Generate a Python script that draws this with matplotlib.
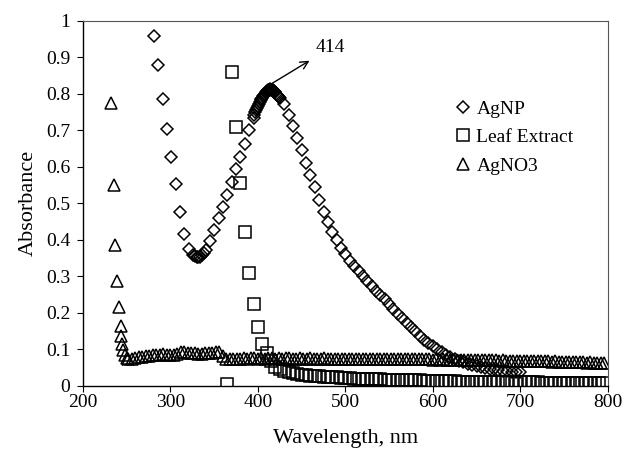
import numpy as np
import matplotlib
matplotlib.use("Agg")
import matplotlib.pyplot as plt

plt.rcParams["font.family"] = "Liberation Serif"
plt.rcParams["font.size"] = 14

# AgNP (diamonds)
agnp_nm = (
    [281, 286, 291, 296, 301, 306, 311, 316, 321, 326, 328, 330, 332, 334, 336, 338,
     341, 345, 350, 355, 360, 365, 370, 375, 380, 385, 390, 395]
    + list(np.arange(396, 425))
    + list(np.arange(425, 701, 5))
)
agnp_abs = (
    [0.957, 0.877, 0.786, 0.704, 0.626, 0.553, 0.476, 0.416, 0.375, 0.357, 0.355,
     0.352, 0.351, 0.353, 0.357, 0.362, 0.372, 0.396, 0.425, 0.459, 0.490, 0.522,
     0.557, 0.592, 0.627, 0.663, 0.700, 0.734]
    + [0.741, 0.748, 0.754, 0.760, 0.766, 0.771, 0.776, 0.781, 0.785, 0.789,
       0.793, 0.797, 0.800, 0.803, 0.806, 0.808, 0.810, 0.811, 0.812, 0.811,
       0.810, 0.809, 0.807, 0.805, 0.803, 0.800, 0.797, 0.794, 0.791]
    + [0.787, 0.771, 0.740, 0.710, 0.678, 0.645, 0.611, 0.578, 0.543, 0.508,
       0.476, 0.447, 0.421, 0.399, 0.378, 0.359, 0.342, 0.327, 0.313, 0.299,
       0.286, 0.273, 0.260, 0.248, 0.236, 0.223, 0.210, 0.197, 0.185, 0.172,
       0.160, 0.148, 0.137, 0.126, 0.116, 0.107, 0.099, 0.091, 0.084, 0.078,
       0.073, 0.068, 0.064, 0.060, 0.057, 0.054, 0.051, 0.048, 0.046, 0.044,
       0.042, 0.040, 0.039, 0.038, 0.037, 0.036]
)

# Leaf extract (squares)
leaf_nm = list(np.arange(365, 796, 5))
leaf_abs = (
    [0.003, 0.860, 0.709, 0.554, 0.420, 0.309, 0.223, 0.161, 0.113, 0.088,
     0.066, 0.052, 0.045, 0.040, 0.036, 0.033, 0.031, 0.029]
    + [0.028, 0.027, 0.026, 0.025, 0.024, 0.023, 0.022, 0.022, 0.021, 0.020]
    + [0.020, 0.019, 0.019, 0.018, 0.018, 0.017, 0.017, 0.017, 0.016, 0.016,
       0.016, 0.015, 0.015, 0.015, 0.014, 0.014, 0.014, 0.013, 0.013, 0.013]
    + [0.013, 0.012, 0.012, 0.012, 0.012, 0.011, 0.011, 0.011, 0.011, 0.011,
       0.010, 0.010, 0.010, 0.010, 0.010, 0.010, 0.009, 0.009, 0.009, 0.009]
    + [0.009, 0.009, 0.009, 0.009, 0.008, 0.008, 0.008, 0.008, 0.008, 0.008,
       0.008, 0.008, 0.008, 0.007, 0.007, 0.007, 0.007, 0.007, 0.007]
)

# AgNO3 (triangles)
agno3_nm = (
    [232, 235, 237, 239, 241, 243, 244, 245, 246, 248, 250, 252]
    + list(np.arange(256, 797, 4))
)
agno3_abs = (
    [0.775, 0.548, 0.385, 0.285, 0.215, 0.163, 0.137, 0.115, 0.097, 0.083, 0.075, 0.072]
    + [0.073, 0.075, 0.077, 0.079, 0.080, 0.082, 0.083, 0.084, 0.084, 0.085,
       0.084, 0.084, 0.083, 0.085, 0.093, 0.091, 0.089, 0.088, 0.088, 0.087,
       0.087, 0.088, 0.089, 0.090, 0.093, 0.091, 0.082, 0.074, 0.072]
    + [0.073, 0.074, 0.074, 0.075, 0.074, 0.075, 0.075, 0.074]
    + [0.075, 0.074, 0.075, 0.075, 0.074, 0.075, 0.074, 0.075, 0.075, 0.074,
       0.074, 0.075, 0.074, 0.074, 0.075, 0.074, 0.074, 0.074, 0.075, 0.074,
       0.074, 0.074, 0.073, 0.074, 0.074]
    + [0.073, 0.074, 0.073, 0.074, 0.073, 0.073, 0.074, 0.073, 0.073, 0.073,
       0.074, 0.073, 0.073, 0.072, 0.073, 0.073, 0.072, 0.073, 0.072, 0.072,
       0.073, 0.072, 0.072, 0.072, 0.071]
    + [0.072, 0.071, 0.072, 0.071, 0.071, 0.071, 0.070, 0.071, 0.070, 0.070,
       0.071, 0.070, 0.070, 0.069, 0.070, 0.069, 0.069, 0.069, 0.068, 0.069,
       0.068, 0.068, 0.068, 0.067, 0.068]
    + [0.067, 0.067, 0.067, 0.066, 0.067, 0.066, 0.066, 0.066, 0.065, 0.066,
       0.065, 0.065, 0.065, 0.064, 0.065, 0.064, 0.064, 0.064, 0.063, 0.064,
       0.063, 0.063, 0.063, 0.062]
)

x_ticks = [200, 300, 400, 500, 600, 700, 800]
y_ticks = [0, 0.1, 0.2, 0.3, 0.4, 0.5, 0.6, 0.7, 0.8, 0.9, 1]
y_ticklabels = ["0", "0.1", "0.2", "0.3", "0.4", "0.5", "0.6", "0.7", "0.8", "0.9", "1"]

fig = plt.figure(figsize=(6.24, 4.5), dpi=100)
ax = fig.add_axes([0.133, 0.1433, 0.841, 0.8111])

mk = dict(linestyle="none", mfc="none", mec="black", mew=1.1)
ax.plot(agnp_nm, agnp_abs, marker="D", ms=6.5, label="AgNP", **mk)
ax.plot(leaf_nm, leaf_abs, marker="s", ms=8.5, label="Leaf Extract", **mk)
ax.plot(agno3_nm, agno3_abs, marker="^", ms=9, label="AgNO3", **mk)

# peak marker arrow
ax.annotate("", xy=(459, 0.89), xytext=(415, 0.826),
            arrowprops=dict(arrowstyle="->", color="black", lw=1, shrinkA=0, shrinkB=0))
ax.text(483, 0.927, "414", ha="center", va="center", fontsize=14)

ax.set_xlim(200, 800)
ax.set_ylim(0, 1)
ax.set_xticks(x_ticks)
ax.set_yticks(y_ticks)
ax.set_yticklabels(y_ticklabels)
ax.tick_params(direction="out", length=4, width=0.8, labelsize=14)
ax.tick_params(axis="x", pad=2)
ax.tick_params(axis="y", pad=5)
for side in ["top", "right"]:
    ax.spines[side].set_color("#555555")
    ax.spines[side].set_linewidth(0.8)
for side in ["left", "bottom"]:
    ax.spines[side].set_linewidth(1.0)

ax.set_xlabel("Wavelength, nm", fontsize=16, labelpad=13)
ax.set_ylabel("Absorbance", fontsize=16, labelpad=6)

fig.legend(loc="upper left", bbox_to_anchor=(0.726, 0.778), frameon=False,
           borderaxespad=0, borderpad=0, handlelength=1.0, handletextpad=0.2,
           labelspacing=0.57, numpoints=1, fontsize=14)

fig.savefig("out.png", dpi=100)
